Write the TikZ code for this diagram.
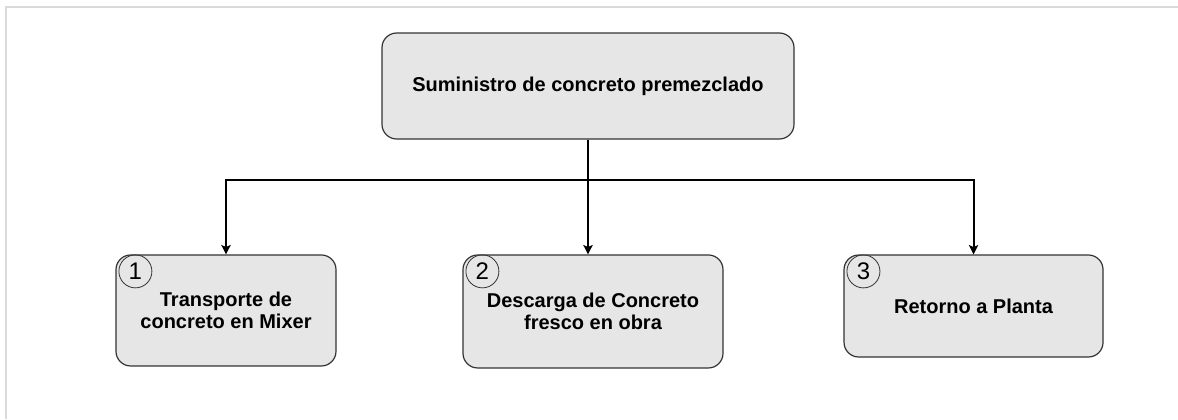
\documentclass[tikz,border=0pt]{standalone}
\usepackage{fontspec}
\setmainfont{Liberation Sans}
\usepackage{xcolor}
\usepackage{tikz}
\usetikzlibrary{positioning,arrows.meta}

\definecolor{boxfill}{HTML}{E6E6E6}
\definecolor{boxline}{HTML}{333333}
\definecolor{framegray}{HTML}{DADADA}

\begin{document}
\begin{tikzpicture}[
x=0.75pt, y=-0.75pt,
box/.style={rectangle, rounded corners=11pt, draw=boxline, fill=boxfill, line width=0.9pt, font=\fontsize{15}{17}\selectfont\bfseries, align=center},
num/.style={circle, draw=boxline, line width=0.6pt, minimum size=24.75pt, inner sep=0pt, font=\fontsize{18}{18}\selectfont},
link/.style={line width=1.5pt, -{Stealth[length=7pt,width=7pt,inset=1.5pt]}}
]
\useasboundingbox (0,0) rectangle (1178,419);
\draw[framegray, line width=1.5pt] (5.5,419) |- (1178,6.5);

\node[box, minimum width=309pt, minimum height=79.5pt](supply) at (588,86){Suministro de concreto premezclado};

\node[box, minimum width=195pt, minimum height=84.75pt](discharge)[below of = supply, node distance=169.1pt, xshift=3.75pt]{Descarga de Concreto\\fresco en obra};
\node[box, minimum width=165pt, minimum height=83.25pt](transport)[left of = discharge, node distance=275.25pt, yshift=0.75pt]{Transporte de\\concreto en Mixer};
\node[box, minimum width=194.25pt, minimum height=76.5pt](return)[right of = discharge, node distance=285.4pt, yshift=4.1pt]{Retorno a Planta};

\node[num](n_transport) at ([xshift=15pt, yshift=-12.75pt]transport.north west){1};
\node[num](n_discharge) at ([xshift=15pt, yshift=-12.75pt]discharge.north west){2};
\node[num](n_return) at ([xshift=15pt, yshift=-12.75pt]return.north west){3};

\draw[link] (supply.south) -- ++(0,40) -| (transport.north);
\draw[link] (supply.south) -- (supply.south |- discharge.north);
\draw[link] (supply.south) -- ++(0,40) -| (return.north);

\end{tikzpicture}
\end{document}
